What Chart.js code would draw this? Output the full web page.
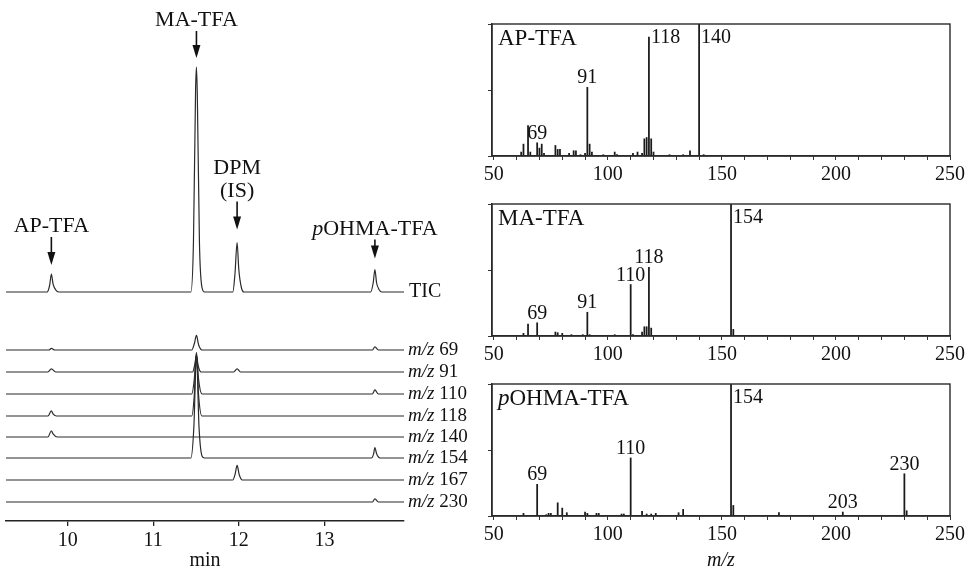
<!DOCTYPE html>
<html>
<head>
<meta charset="utf-8">
<title>GC-MS</title>
<script src="https://cdn.jsdelivr.net/npm/chart.js@4.4.1/dist/chart.umd.min.js"></script>
<style>
  html, body { margin: 0; padding: 0; background: #fff; }
  body { position: relative; width: 974px; height: 573px; overflow: hidden; }
  .box { position: absolute; }
</style>
</head>
<body>
<div class="box" style="left:0;top:0;width:480px;height:573px"><canvas id="gc"></canvas></div>
<div class="box" style="left:470px;top:0;width:504px;height:190px"><canvas id="msAP"></canvas></div>
<div class="box" style="left:470px;top:180px;width:504px;height:190px"><canvas id="msMA"></canvas></div>
<div class="box" style="left:470px;top:360px;width:504px;height:213px"><canvas id="msOH"></canvas></div>
<script>
const SERIF = '"Liberation Serif", "DejaVu Serif", "Times New Roman", serif';
Chart.defaults.font.family = SERIF;
Chart.defaults.color = '#111';
Chart.defaults.animation = false;

// ---------- chromatogram ----------
const timeMin = 9.28;
const timeMax = 13.93;
const timeTicks = [10, 11, 12, 13];

// total ion current, % of the MA-TFA peak  [min, %]
const tic = [
  [9.28, 0], [9.76, 0], [9.79, 3], [9.81, 8], [9.83, 3.5], [9.87, 0.5], [9.9, 0],
  [11.44, 0], [11.47, 22], [11.495, 90], [11.505, 100], [11.515, 88], [11.54, 22], [11.57, 2], [11.6, 0],
  [11.93, 0], [11.955, 8], [11.98, 22], [12.0, 10], [12.03, 2], [12.06, 0],
  [13.54, 0], [13.57, 4], [13.59, 10], [13.61, 4], [13.64, 1], [13.67, 0], [13.93, 0]
];

// mass chromatograms, % of the m/z 154 MA-TFA peak  [min, %]
const ion69 = [[9.28, 0], [9.78, 0], [9.81, 1.5], [9.85, 0], [11.45, 0], [11.48, 6], [11.505, 14], [11.53, 5], [11.57, 0], [13.56, 0], [13.59, 3], [13.63, 0], [13.93, 0]];
const ion91 = [[9.28, 0], [9.77, 0], [9.81, 3], [9.86, 0], [11.46, 0], [11.485, 7], [11.505, 16], [11.525, 6], [11.56, 0], [11.94, 0], [11.98, 3], [12.02, 0], [13.93, 0]];
const ion110 = [[9.28, 0], [11.45, 0], [11.48, 14], [11.505, 40], [11.53, 14], [11.57, 0], [13.56, 0], [13.59, 4], [13.63, 0], [13.93, 0]];
const ion118 = [[9.28, 0], [9.77, 0], [9.81, 5], [9.83, 2], [9.87, 0], [11.45, 0], [11.48, 20], [11.505, 60], [11.53, 20], [11.57, 0], [13.93, 0]];
const ion140 = [[9.28, 0], [9.77, 0], [9.81, 6], [9.83, 3], [9.88, 0], [13.93, 0]];
const ion154 = [[9.28, 0], [11.44, 0], [11.475, 30], [11.505, 100], [11.535, 30], [11.57, 2], [11.6, 0], [13.55, 0], [13.575, 4], [13.59, 10], [13.61, 4], [13.65, 0], [13.93, 0]];
const ion167 = [[9.28, 0], [11.93, 0], [11.955, 5], [11.98, 14], [12.005, 5], [12.04, 0], [13.93, 0]];
const ion230 = [[9.28, 0], [13.56, 0], [13.59, 3], [13.63, 0], [13.93, 0]];

const ionMasses = [69, 91, 110, 118, 140, 154, 167, 230];
const ionTraces = [ion69, ion91, ion110, ion118, ion140, ion154, ion167, ion230];

// peaks marked with an arrow on the TIC
const gcPeaks = [
  { name: [['AP-TFA', false]], time: 9.81, gap: 9, arrow: 28 },
  { name: [['MA-TFA', false]], time: 11.505, gap: 9, arrow: 27 },
  { name: [['DPM', false]], sub: '(IS)', time: 11.98, gap: 13, arrow: 28 },
  { name: [['p', true], ['OHMA-TFA', false]], time: 13.59, gap: 11, arrow: 19 }
];

// ---------- mass spectra (relative intensity, %) ----------
const apMz = [62, 63, 65, 66, 69, 70, 71, 72, 77, 78, 79, 83, 85, 86, 88, 90, 91, 92, 93, 98, 103, 104, 111, 113, 115, 116, 117, 118, 119, 120, 127, 133, 136, 140, 142];
const apInt = [3, 9, 23, 3, 10, 6, 9, 2, 8, 5, 5, 2, 4, 4, 1, 2, 52, 9, 3, 1, 3, 1, 2, 3, 2, 13, 14, 90, 13, 3, 1, 1, 4, 100, 1];

const maMz = [63, 65, 69, 77, 78, 80, 84, 89, 91, 92, 103, 110, 111, 115, 116, 117, 118, 119, 154, 155];
const maInt = [2, 9, 10, 3, 2.5, 2, 1, 1, 18, 1, 1, 39, 1, 3, 7, 7, 52, 6, 100, 5];

const ohMz = [63, 69, 73, 74, 75, 78, 80, 82, 90, 91, 95, 96, 106, 107, 110, 115, 117, 119, 121, 131, 133, 154, 155, 175, 203, 230, 231];
const ohInt = [2, 24, 1, 2, 2, 10, 6, 2.5, 3, 2, 2, 2, 1.5, 1.5, 44, 3.5, 1.5, 1.5, 2, 2.5, 5, 100, 8, 2.5, 3, 32, 4];

const mzMin = 49.2;
const mzMax = 250;
const mzTicks = [50, 60, 70, 80, 90, 100, 110, 120, 130, 140, 150, 160, 170, 180, 190, 200, 210, 220, 230, 240, 250];
const intTicks = [0, 50, 100];

// ---------- helpers ----------
function drawRich(ctx, parts, x, y, size, align) {
  const fonts = parts.map(([, it]) => (it ? 'italic ' : '') + size + 'px ' + SERIF);
  const widths = parts.map(([t], i) => { ctx.font = fonts[i]; return ctx.measureText(t).width; });
  const total = widths.reduce((s, w) => s + w, 0);
  let cx = align === 'center' ? x - total / 2 : x;
  ctx.textAlign = 'left';
  parts.forEach(([t], i) => { ctx.font = fonts[i]; ctx.fillText(t, cx, y); cx += widths[i]; });
}

const toXY = pts => pts.map(([t, v]) => ({ x: t, y: v }));

// vertical stacking of the traces: baseline height above the time axis and px per %
const plotHeight = 513;
const ticBase = 229, ticGain = 2.25;
const ionBase = [171, 149, 127, 105, 84, 63, 41, 19], ionGain = 1.04;
function bandAxis(base, gain) {
  return { display: false, min: -base / gain, max: (plotHeight - base) / gain };
}

const traceStyle = {
  borderColor: '#2b2b2b', borderWidth: 1.2, pointRadius: 0,
  cubicInterpolationMode: 'monotone', fill: false
};

const gcScales = {
  x: {
    type: 'linear', min: timeMin, max: timeMax,
    afterBuildTicks: s => { s.ticks = timeTicks.map(v => ({ value: v })); },
    afterFit: s => { s.height = 52; },
    grid: { drawOnChartArea: false, tickLength: 5, color: '#222', lineWidth: 1.3 },
    border: { color: '#222', width: 1.5 },
    ticks: { font: { size: 20 }, color: '#111', maxRotation: 0 },
    title: { display: true, text: 'min', font: { size: 20 }, color: '#111', padding: { top: 0, bottom: 0 } }
  },
  yTIC: bandAxis(ticBase, ticGain)
};
ionMasses.forEach((m, i) => { gcScales['y' + m] = bandAxis(ionBase[i], ionGain); });

const gcDatasets = [{ ...traceStyle, data: toXY(tic), yAxisID: 'yTIC' }];
ionTraces.forEach((tr, i) => {
  gcDatasets.push({ ...traceStyle, data: toXY(tr), yAxisID: 'y' + ionMasses[i] });
});

// trace names at the right end and arrows over the TIC peaks
const gcMarks = {
  id: 'gcMarks',
  afterDatasetsDraw(chart) {
    const { ctx, chartArea: a, scales } = chart;
    ctx.save();
    ctx.fillStyle = '#111';
    ctx.strokeStyle = '#111';
    ctx.textBaseline = 'middle';

    ctx.font = '20px ' + SERIF;
    ctx.textAlign = 'left';
    ctx.fillText('TIC', a.right + 5, scales.yTIC.getPixelForValue(0));
    ionMasses.forEach(m => {
      drawRich(ctx, [['m/z', true], [' ' + m, false]], a.right + 4, scales['y' + m].getPixelForValue(0), 19, 'left');
    });

    ctx.textBaseline = 'alphabetic';
    gcPeaks.forEach(p => {
      const apex = tic.find(q => q[0] === p.time)[1];
      const x = scales.x.getPixelForValue(p.time);
      const tip = scales.yTIC.getPixelForValue(apex) - p.gap;
      const top = tip - p.arrow;
      ctx.lineWidth = 1.6;
      ctx.beginPath();
      ctx.moveTo(x, top);
      ctx.lineTo(x, tip - 8);
      ctx.stroke();
      ctx.beginPath();
      ctx.moveTo(x - 4, tip - 13);
      ctx.lineTo(x + 4, tip - 13);
      ctx.lineTo(x, tip);
      ctx.closePath();
      ctx.fill();
      let base = top - 5;
      if (p.sub) {
        drawRich(ctx, [[p.sub, false]], x, base, 22, 'center');
        base -= 23;
      }
      drawRich(ctx, p.name, x, base, 22, 'center');
    });
    ctx.restore();
  }
};

new Chart(document.getElementById('gc'), {
  type: 'line',
  data: { datasets: gcDatasets },
  options: {
    responsive: true, maintainAspectRatio: false,
    layout: { padding: { left: 6, right: 76, top: 8, bottom: 0 } },
    plugins: { legend: { display: false }, tooltip: { enabled: false } },
    scales: gcScales
  },
  plugins: [gcMarks]
});

// ---------- spectra ----------
const frame = {
  id: 'frame',
  afterDraw(chart) {
    const { ctx, chartArea: a } = chart;
    ctx.save();
    ctx.strokeStyle = '#2a2a2a';
    ctx.lineWidth = 1.4;
    ctx.strokeRect(a.left, a.top, a.right - a.left, a.bottom - a.top);
    ctx.restore();
  }
};

function spectrum(id, mz, inten, name, peakLabels, axisHeight, withTitle) {
  const labels = {
    id: 'peakLabels',
    afterDatasetsDraw(chart) {
      const { ctx, chartArea: a, scales: { x, y } } = chart;
      ctx.save();
      ctx.fillStyle = '#111';
      ctx.textBaseline = 'alphabetic';
      ctx.font = '20px ' + SERIF;
      peakLabels.forEach(({ mz: m, side }) => {
        const v = inten[mz.indexOf(m)];
        const px = x.getPixelForValue(m);
        const py = y.getPixelForValue(v);
        if (side === 'right') {
          ctx.textAlign = 'left';
          ctx.fillText(String(m), px + 2, Math.max(py + 6, a.top + 19));
        } else {
          ctx.textAlign = 'center';
          ctx.fillText(String(m), px, py - 4);
        }
      });
      drawRich(ctx, name, a.left + 6, a.top + 21, 23, 'left');
      ctx.restore();
    }
  };

  return new Chart(document.getElementById(id), {
    type: 'bar',
    data: {
      datasets: [{
        data: mz.map((m, i) => ({ x: m, y: inten[i] })),
        backgroundColor: '#1a1a1a', borderWidth: 0, barThickness: 1.1
      }]
    },
    options: {
      responsive: true, maintainAspectRatio: false,
      layout: { padding: { left: 0, right: 24, top: 24, bottom: 0 } },
      plugins: { legend: { display: false }, tooltip: { enabled: false } },
      scales: {
        x: {
          type: 'linear', min: mzMin, max: mzMax, offset: false,
          afterBuildTicks: s => { s.ticks = mzTicks.map(v => ({ value: v })); },
          afterFit: s => { s.height = axisHeight; },
          grid: { drawOnChartArea: false, offset: false, tickLength: 4, color: '#333' },
          border: { color: '#2a2a2a', width: 1.4 },
          ticks: {
            font: { size: 20 }, color: '#111', maxRotation: 0, autoSkip: false,
            callback: v => (v % 50 === 0 ? String(v) : '')
          },
          title: {
            display: withTitle, text: 'm/z', color: '#111',
            font: { size: 20, style: 'italic' }, padding: { top: 0, bottom: 0 }
          }
        },
        y: {
          min: 0, max: 100,
          afterBuildTicks: s => { s.ticks = intTicks.map(v => ({ value: v })); },
          afterFit: s => { s.width = 22; },
          grid: { drawOnChartArea: false, tickLength: 4, color: '#333' },
          border: { color: '#2a2a2a', width: 1.4 },
          ticks: { display: false }
        }
      }
    },
    plugins: [frame, labels]
  });
}

spectrum('msAP', apMz, apInt, [['AP-TFA', false]],
  [{ mz: 69, side: 'above' }, { mz: 91, side: 'above' }, { mz: 118, side: 'right' }, { mz: 140, side: 'right' }],
  34, false);
spectrum('msMA', maMz, maInt, [['MA-TFA', false]],
  [{ mz: 69, side: 'above' }, { mz: 91, side: 'above' }, { mz: 110, side: 'above' }, { mz: 118, side: 'above' }, { mz: 154, side: 'right' }],
  34, false);
spectrum('msOH', ohMz, ohInt, [['p', true], ['OHMA-TFA', false]],
  [{ mz: 69, side: 'above' }, { mz: 110, side: 'above' }, { mz: 154, side: 'right' }, { mz: 203, side: 'above' }, { mz: 230, side: 'above' }],
  57, true);
</script>
</body>
</html>
